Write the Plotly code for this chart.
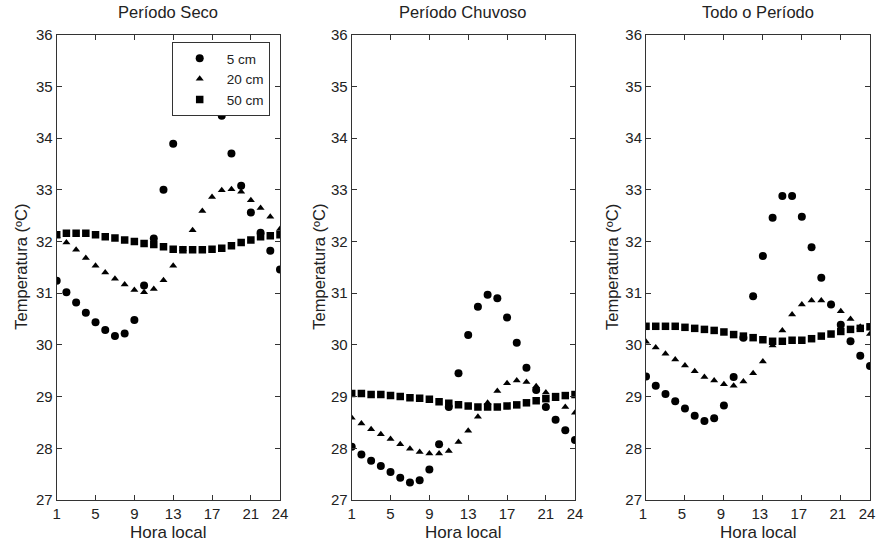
import plotly.graph_objects as go

hours = list(range(1, 25))
x_ticks = [1, 5, 9, 13, 17, 21, 24]
y_ticks = [27, 28, 29, 30, 31, 32, 33, 34, 35, 36]
panel_titles = ["Período Seco", "Período Chuvoso", "Todo o Período"]
series_names = ["5 cm", "20 cm", "50 cm"]

# Período Seco
seco_5 = [31.24, 31.02, 30.82, 30.62, 30.44, 30.29, 30.17, 30.22, 30.48, 31.15, 32.06, 33.00,
          33.89, 34.84, 35.52, 35.61, 35.17, 34.43, 33.70, 33.08, 32.56, 32.17, 31.82, 31.46]
seco_20 = [32.10, 31.98, 31.84, 31.68, 31.53, 31.40, 31.28, 31.17, 31.06, 31.02, 31.08, 31.25,
           31.53, 31.85, 32.22, 32.59, 32.86, 32.99, 33.01, 32.96, 32.80, 32.65, 32.48, 32.24]
seco_50 = [32.13, 32.16, 32.16, 32.16, 32.13, 32.09, 32.07, 32.03, 32.00, 31.96, 31.94, 31.90,
           31.85, 31.84, 31.84, 31.84, 31.85, 31.87, 31.92, 31.98, 32.03, 32.09, 32.11, 32.13]

# Período Chuvoso
chuv_5 = [28.03, 27.88, 27.76, 27.66, 27.54, 27.43, 27.34, 27.38, 27.59, 28.08, 28.80, 29.45,
          30.19, 30.74, 30.97, 30.90, 30.53, 30.04, 29.56, 29.13, 28.80, 28.55, 28.35, 28.16]
chuv_20 = [28.59, 28.48, 28.37, 28.27, 28.18, 28.08, 27.99, 27.93, 27.90, 27.90, 27.95, 28.12,
           28.34, 28.61, 28.88, 29.11, 29.26, 29.31, 29.28, 29.20, 29.08, 28.95, 28.80, 28.69]
chuv_50 = [29.06, 29.06, 29.04, 29.04, 29.02, 29.00, 28.98, 28.97, 28.95, 28.90, 28.87, 28.84,
           28.82, 28.80, 28.80, 28.80, 28.82, 28.84, 28.88, 28.92, 28.96, 29.00, 29.02, 29.04]

# Todo o Período
todo_5 = [29.39, 29.21, 29.05, 28.91, 28.77, 28.63, 28.53, 28.58, 28.83, 29.38, 30.14, 30.94,
          31.72, 32.46, 32.88, 32.88, 32.48, 31.89, 31.30, 30.78, 30.39, 30.07, 29.79, 29.59]
todo_20 = [30.06, 29.95, 29.83, 29.72, 29.60, 29.49, 29.38, 29.31, 29.24, 29.21, 29.29, 29.45,
           29.68, 29.99, 30.28, 30.59, 30.78, 30.86, 30.86, 30.79, 30.65, 30.50, 30.35, 30.21]
todo_50 = [30.36, 30.36, 30.36, 30.36, 30.34, 30.32, 30.30, 30.28, 30.25, 30.20, 30.17, 30.14,
           30.10, 30.07, 30.07, 30.09, 30.09, 30.12, 30.17, 30.21, 30.26, 30.30, 30.32, 30.35]

panels = [
    (seco_5, seco_20, seco_50),
    (chuv_5, chuv_20, chuv_50),
    (todo_5, todo_20, todo_50),
]

W, H = 876, 543
px_x = [(56.7, 280.0), (351.7, 575.0), (646.0, 870.0)]
ylab_dx = [36, 33, 34]
xlab_shift = [0, 0, -3]
y_top, y_bot = 34.7, 500.0


def fx(px):
    return px / W


def fy(py):
    return 1 - py / H


symbols = ["circle", "triangle-up", "square"]
sizes = [8, 7, 7.5]
FONT = "Liberation Sans, Arial, sans-serif"
AX = "#333333"
TXT = "#222222"
TICK_FS = 15
LAB_FS = 16.5

fig = go.Figure()
for i, data in enumerate(panels):
    xa = "x" if i == 0 else f"x{i+1}"
    ya = "y" if i == 0 else f"y{i+1}"
    for j, vals in enumerate(data):
        fig.add_trace(go.Scatter(
            x=hours, y=vals, mode="markers", name=series_names[j],
            xaxis=xa, yaxis=ya, showlegend=(i == 0),
            marker=dict(symbol=symbols[j], size=sizes[j], color="black",
                        line=dict(width=0)),
            cliponaxis=True,
        ))

layout = dict(
    width=W, height=H,
    margin=dict(l=0, r=0, t=0, b=0, pad=0, autoexpand=False),
    paper_bgcolor="white", plot_bgcolor="white",
    font=dict(family=FONT, size=TICK_FS, color=TXT),
    legend=dict(
        x=fx(171.7), y=fy(42.0), xanchor="left", yanchor="top",
        bgcolor="white", bordercolor="#333333", borderwidth=1,
        font=dict(family=FONT, size=13.5, color=TXT),
        itemwidth=44, tracegroupgap=0,
    ),
    annotations=[],
)

for i in range(3):
    sx = "" if i == 0 else str(i + 1)
    x0, x1 = px_x[i]
    layout[f"xaxis{sx}"] = dict(
        domain=[fx(x0), fx(x1)], range=[1, 24], anchor=f"y{sx}",
        tickmode="array", tickvals=x_ticks, ticks="inside", ticklen=5,
        tickcolor=AX, showline=True, linecolor=AX, linewidth=1, mirror="ticks",
        showgrid=False, zeroline=False, automargin=False, ticklabeloverflow="allow",
        ticklabelshift=xlab_shift[i],
        tickfont=dict(family=FONT, size=TICK_FS, color=TXT),
    )
    layout[f"yaxis{sx}"] = dict(
        domain=[fy(y_bot), fy(y_top)], range=[27, 36], anchor=f"x{sx}",
        tickmode="array", tickvals=y_ticks, ticks="inside", ticklen=5,
        tickcolor=AX, showline=True, linecolor=AX, linewidth=1, mirror="ticks",
        showgrid=False, zeroline=False, automargin=False, ticklabeloverflow="allow",
        tickfont=dict(family=FONT, size=TICK_FS, color=TXT),
    )
    cx = fx((x0 + x1) / 2)
    layout["annotations"].append(dict(
        text=panel_titles[i], x=cx, y=fy(12), xref="paper", yref="paper",
        showarrow=False, xanchor="center", yanchor="middle",
        font=dict(family=FONT, size=LAB_FS, color=TXT),
    ))
    layout["annotations"].append(dict(
        text="Hora local", x=cx, y=fy(532), xref="paper", yref="paper",
        showarrow=False, xanchor="center", yanchor="middle",
        font=dict(family=FONT, size=17, color=TXT),
    ))
    layout["annotations"].append(dict(
        text="Temperatura (ºC)", x=fx(x0 - ylab_dx[i]), y=fy(267), xref="paper", yref="paper",
        showarrow=False, xanchor="center", yanchor="middle", textangle=-90,
        font=dict(family=FONT, size=LAB_FS, color=TXT),
    ))

fig.update_layout(**layout)
fig.write_html("out.html", config={"displayModeBar": False},
               post_script="document.body.style.margin='0px';")
